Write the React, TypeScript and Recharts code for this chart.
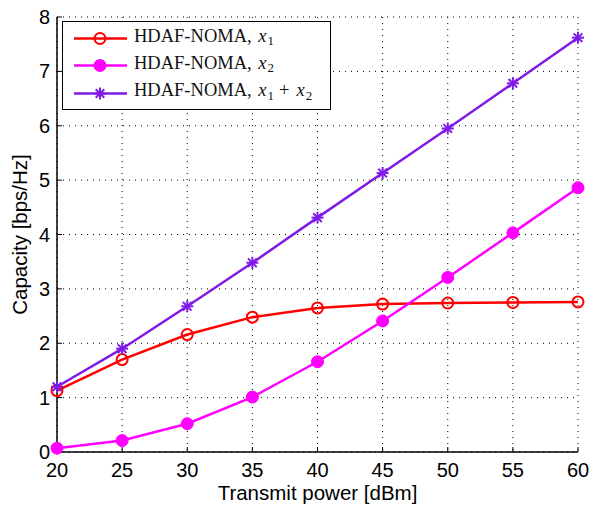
import React from 'react';
import { LineChart, Line, XAxis, YAxis, CartesianGrid } from 'recharts';

const power = [20, 25, 30, 35, 40, 45, 50, 55, 60];
const capX1 = [1.13, 1.7, 2.16, 2.48, 2.65, 2.72, 2.74, 2.75, 2.76];
const capX2 = [0.07, 0.21, 0.52, 1.01, 1.66, 2.41, 3.21, 4.03, 4.86];
const capSum = [1.2, 1.9, 2.68, 3.48, 4.31, 5.13, 5.95, 6.78, 7.62];
const xTicks = [20, 25, 30, 35, 40, 45, 50, 55, 60];
const yTicks = [0, 1, 2, 3, 4, 5, 6, 7, 8];

const RED = '#ff0000';
const MAGENTA = '#ff00ff';
const PURPLE = '#801ae6';

const data = power.map((p, i) => ({ p, x1: capX1[i], x2: capX2[i], sum: capSum[i] }));

const Star = (props: any) => {
  const { cx, cy } = props;
  if (cx == null || cy == null) return null;
  const r = 6;
  const d = r * 0.72;
  return (
    <g>
      <line x1={cx - r} y1={cy} x2={cx + r} y2={cy} stroke={PURPLE} strokeWidth={2} />
      <line x1={cx} y1={cy - r} x2={cx} y2={cy + r} stroke={PURPLE} strokeWidth={2} />
      <line x1={cx - d} y1={cy - d} x2={cx + d} y2={cy + d} stroke={PURPLE} strokeWidth={2} />
      <line x1={cx - d} y1={cy + d} x2={cx + d} y2={cy - d} stroke={PURPLE} strokeWidth={2} />
    </g>
  );
};

const sub = (n: string) => <sub style={{ fontSize: '0.7em', verticalAlign: '-0.25em', marginLeft: 1 }}>{n}</sub>;
const ix = <i style={{ marginLeft: 2 }}>x</i>;

const legendRows = [
  { color: RED, kind: 'open', label: <>{ix}{sub('1')}</> },
  { color: MAGENTA, kind: 'filled', label: <>{ix}{sub('2')}</> },
  { color: PURPLE, kind: 'star', label: <>{ix}{sub('1')}<span style={{ margin: '0 5px' }}>+</span>{ix}{sub('2')}</> },
];

const LegendBox = () => (
  <div
    style={{
      position: 'absolute',
      left: 62,
      top: 21,
      width: 267,
      height: 87,
      border: '1.5px solid #000',
      background: '#fff',
      fontFamily: '"Liberation Serif", "Times New Roman", serif',
      fontSize: 18.5,
      color: '#111',
    }}
  >
    {legendRows.map((r, i) => (
      <div key={i} style={{ position: 'absolute', left: 0, top: 3 + i * 27.3, height: 27, display: 'flex', alignItems: 'center' }}>
        <svg width={70} height={27} style={{ display: 'block' }}>
          <line x1={11} y1={13.5} x2={64} y2={13.5} stroke={r.color} strokeWidth={2.5} />
          {r.kind === 'open' && <circle cx={37} cy={13.5} r={5.5} fill="none" stroke={r.color} strokeWidth={2} />}
          {r.kind === 'filled' && <circle cx={37} cy={13.5} r={6} fill={r.color} stroke={r.color} />}
          {r.kind === 'star' && <Star cx={37} cy={13.5} />}
        </svg>
        <span style={{ marginLeft: 1, whiteSpace: 'nowrap', lineHeight: '27px' }}>
          HDAF-NOMA, {r.label}
        </span>
      </div>
    ))}
  </div>
);

const tickFont = { fontFamily: '"Liberation Sans", Arial, sans-serif', fontSize: 20, fill: '#000' };
const labelFont = { fontFamily: '"Liberation Sans", Arial, sans-serif', fontSize: 20.5, fill: '#000' };

export default function App() {
  return (
    <div style={{ position: 'absolute', left: 0, top: 0, width: 591, height: 506, background: '#fff' }}>
      <LineChart width={591} height={506} data={data} margin={{ top: 17, right: 13, bottom: 0, left: 0 }}>
        <CartesianGrid stroke="#000" strokeDasharray="1 5" strokeWidth={1} />
        <XAxis
          dataKey="p"
          type="number"
          domain={[20, 60]}
          ticks={xTicks}
          height={54}
          tickSize={-5}
          tickMargin={16}
          axisLine={{ stroke: '#000', strokeWidth: 1.5 }}
          tickLine={{ stroke: '#000' }}
          tick={tickFont}
          label={{ value: 'Transmit power [dBm]', position: 'insideBottom', offset: 6, style: labelFont }}
        />
        <XAxis
          xAxisId="top"
          orientation="top"
          type="number"
          domain={[20, 60]}
          ticks={xTicks}
          height={0}
          tickSize={-5}
          tick={false}
          axisLine={{ stroke: '#000', strokeWidth: 1.5 }}
          tickLine={{ stroke: '#000' }}
        />
        <YAxis
          type="number"
          domain={[0, 8]}
          ticks={yTicks}
          width={57}
          tickSize={-5}
          tickMargin={12}
          axisLine={{ stroke: '#000', strokeWidth: 1.5 }}
          tickLine={{ stroke: '#000' }}
          tick={tickFont}
          label={{
            value: 'Capacity [bps/Hz]',
            angle: -90,
            position: 'insideLeft',
            offset: 20,
            style: { ...labelFont, textAnchor: 'middle' },
          }}
        />
        <YAxis
          yAxisId="right"
          orientation="right"
          type="number"
          domain={[0, 8]}
          ticks={yTicks}
          width={0}
          tickSize={-5}
          tick={false}
          axisLine={{ stroke: '#000', strokeWidth: 1.5 }}
          tickLine={{ stroke: '#000' }}
        />
        <Line
          type="linear"
          dataKey="x1"
          stroke={RED}
          strokeWidth={2.5}
          dot={{ r: 5.5, fill: 'none', stroke: RED, strokeWidth: 2 }}
          isAnimationActive={false}
        />
        <Line
          type="linear"
          dataKey="x2"
          stroke={MAGENTA}
          strokeWidth={2.5}
          dot={{ r: 6, fill: MAGENTA, stroke: MAGENTA, strokeWidth: 1 }}
          isAnimationActive={false}
        />
        <Line
          type="linear"
          dataKey="sum"
          stroke={PURPLE}
          strokeWidth={2.5}
          dot={(p: any) => <Star key={p.index} cx={p.cx} cy={p.cy} />}
          isAnimationActive={false}
        />
      </LineChart>
      <LegendBox />
    </div>
  );
}
